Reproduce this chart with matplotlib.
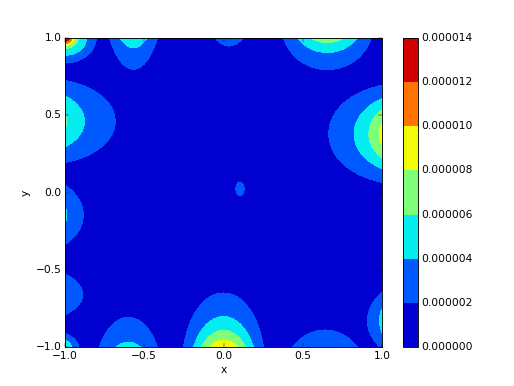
import numpy as np
import matplotlib
matplotlib.use("Agg")
import matplotlib.pyplot as plt

plt.style.use("classic")

# Contour levels and colorbar tick labels
levels = [0.0, 2e-6, 4e-6, 6e-6, 8e-6, 10e-6, 12e-6, 14e-6]
tick_labels = ["0.000000", "0.000002", "0.000004", "0.000006",
               "0.000008", "0.000010", "0.000012", "0.000014"]
axis_ticks = [-1.0, -0.5, 0.0, 0.5, 1.0]

# Field: local peaks
# centre (x, y), amplitude (1e-6), decay lengths (x, y), decay exponents (x, y),
# widening of the along-edge length with distance from the edge
peak_x = [-1.00, -1.00, -0.568, 0.035, 0.655, -1.00, 1.00, -1.00, -1.00, -1.00, -0.60, 0.00, 0.64, 1.00, 0.104]
peak_y = [1.00, 1.00, 1.00, 1.00, 1.00, 0.46, 0.38, -0.145, -0.66, -1.00, -1.00, -1.00, -1.00, -0.83, 0.023]
peak_a = [7.6, 14.5, 5.5, 2.5, 7.2, 6.2, 8.6, 4.3, 3.5, 5.66, 4.6, 9.8, 3.9, 4.6, 2.3]
peak_lx = [0.17, 0.09, 0.15, 0.186, 0.245, 0.28, 0.23, 0.15, 0.20, 0.085, 0.20, 0.20, 0.25, 0.11, 0.07]
peak_ly = [0.14, 0.073, 0.20, 0.233, 0.16, 0.25, 0.26, 0.22, 0.175, 0.085, 0.23, 0.22, 0.165, 0.20, 0.12]
peak_qx = [2, 1.5, 2, 2, 2, 1, 1, 1, 1, 1.5, 2, 2, 2, 1, 2]
peak_qy = [2, 1.5, 1, 1, 1, 2, 2, 2, 2, 1.5, 1, 1, 1, 2, 2]
peak_spread = [0, 0, 0.5, 0.5, 1.2, 0.8, 0.8, 0.8, 0.8, 0, 0.8, 0.8, 0.8, 0.6, 0]

xs = np.linspace(-1, 1, 401)
ys = np.linspace(-1, 1, 401)
X, Y = np.meshgrid(xs, ys)
Z = np.full_like(X, 1e-8)
for px, py, pa, lx, ly, qx, qy, sp in zip(peak_x, peak_y, peak_a, peak_lx, peak_ly,
                                          peak_qx, peak_qy, peak_spread):
    dx = np.abs(X - px)
    dy = np.abs(Y - py)
    lx_eff = lx * (1 + sp * dy) if (qx == 2 and qy == 1) else lx
    ly_eff = ly * (1 + sp * dx) if (qy == 2 and qx == 1) else ly
    bump = pa * 1e-6 * np.exp(-(dx / lx_eff) ** qx - (dy / ly_eff) ** qy)
    Z = np.maximum(Z, bump)
Z = np.clip(Z, 0, 13.9e-6)

W, H, DPI = 514, 386, 64
fig = plt.figure(figsize=(W / DPI, H / DPI), dpi=DPI, facecolor="white")
ax = fig.add_axes([65 / W, 1 - 347 / H, (382 - 65) / W, (347 - 38) / H])
cax = fig.add_axes([403 / W, 1 - 347 / H, (418 - 403) / W, (347 - 38) / H])

cs = ax.contourf(X, Y, Z, levels=levels, cmap="jet")
ax.set_xlim(-1, 1)
ax.set_ylim(-1, 1)
ax.set_xticks(axis_ticks)
ax.set_yticks(axis_ticks)
ax.set_xlabel("x")
ax.set_ylabel("y")

cb = fig.colorbar(cs, cax=cax)
cb.set_ticks(levels)
cb.set_ticklabels(tick_labels)
cax.tick_params(length=0)

fig.savefig("out.png", dpi=DPI, facecolor="white")
